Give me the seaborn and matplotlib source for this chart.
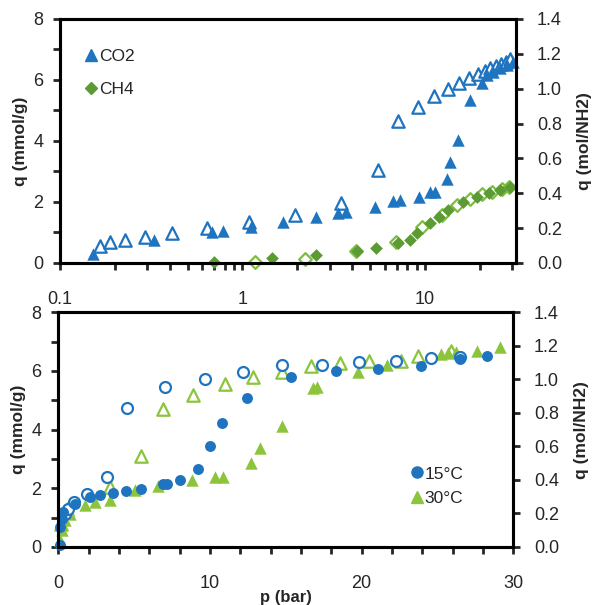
import numpy as np
import pandas as pd
import matplotlib
matplotlib.use("Agg")
import matplotlib.pyplot as plt
import matplotlib.ticker as mticker
import seaborn as sns

sns.set_style("ticks")
plt.rcParams["font.family"] = ["Liberation Sans", "DejaVu Sans"]

# ── Data: top panel (log p, CO2 / CH4) ───────────────────────────────────────
co2_ads_p = [0.152, 0.326, 0.678, 0.78, 1.12, 1.66, 2.54, 3.34, 3.71, 5.31, 6.70, 7.29,
             9.27, 10.6, 11.4, 13.2, 13.7, 15.2, 17.7, 20.5, 21.8, 23.7, 25.8, 28.1, 30.2]
co2_ads_q = [0.285, 0.75, 1.03, 1.05, 1.19, 1.35, 1.50, 1.63, 1.66, 1.85, 2.04, 2.07,
             2.17, 2.32, 2.34, 2.75, 3.32, 4.03, 5.34, 5.89, 6.16, 6.27, 6.38, 6.49, 6.60]
co2_des_p = [0.166, 0.188, 0.228, 0.292, 0.411, 0.640, 1.08, 1.93, 3.48, 5.54, 7.14, 9.19,
             11.2, 13.3, 15.4, 17.5, 19.5, 21.2, 22.8, 24.5, 26.0, 27.9, 29.3]
co2_des_q = [0.57, 0.68, 0.75, 0.86, 0.99, 1.14, 1.33, 1.57, 1.98, 3.05, 4.67, 5.12,
             5.48, 5.69, 5.91, 6.05, 6.19, 6.31, 6.38, 6.46, 6.52, 6.60, 6.68]
ch4_ads_p = [0.695, 1.46, 2.54, 4.25, 5.42, 7.1, 8.27, 9.0, 10.7, 12.0, 13.4, 16.2,
             19.2, 22.3, 25.8, 29.3]
ch4_ads_q = [0.04, 0.15, 0.26, 0.40, 0.50, 0.66, 0.75, 0.99, 1.30, 1.50, 1.74, 2.01,
             2.15, 2.29, 2.39, 2.50]
ch4_des_p = [1.17, 2.19, 4.18, 6.93, 9.59, 12.4, 14.9, 17.7, 20.5, 23.3, 26.4, 28.7]
ch4_des_q = [0.04, 0.13, 0.39, 0.70, 1.19, 1.57, 1.90, 2.09, 2.25, 2.34, 2.42, 2.50]

# ── Data: bottom panel (linear p, 15 / 30 °C) ────────────────────────────────
t15_ads_p = [0.11, 0.11, 0.22, 0.33, 1.1, 2.09, 2.75, 3.58, 4.5, 5.43, 6.92, 7.14, 8.02,
             9.23, 10.04, 10.81, 12.48, 15.38, 18.3, 21.1, 23.9, 26.5, 28.3]
t15_ads_q = [0.06, 0.68, 0.96, 1.19, 1.48, 1.70, 1.76, 1.84, 1.90, 1.99, 2.13, 2.13, 2.27,
             2.67, 3.44, 4.22, 5.07, 5.81, 5.99, 6.07, 6.18, 6.41, 6.52]
t15_des_p = [0.44, 0.66, 1.03, 1.87, 3.19, 4.51, 7.03, 9.65, 12.2, 14.75, 17.36, 19.84,
             22.26, 24.6, 26.5]
t15_des_q = [1.13, 1.31, 1.53, 1.82, 2.40, 4.73, 5.45, 5.71, 5.98, 6.19, 6.21, 6.29,
             6.35, 6.44, 6.46]
t30_ads_p = [0.11, 0.22, 0.44, 0.77, 1.76, 2.42, 3.41, 5.06, 6.59, 8.79, 10.33, 10.88,
             12.7, 13.3, 14.73, 16.8, 17.05, 19.78, 21.7, 25.27, 25.7, 26.2, 27.6, 29.1]
t30_ads_q = [0.23, 0.57, 0.91, 1.13, 1.42, 1.53, 1.61, 1.93, 2.07, 2.27, 2.38, 2.38,
             2.86, 3.37, 4.11, 5.42, 5.44, 5.95, 6.21, 6.58, 6.61, 6.63, 6.69, 6.80]
t30_des_p = [0.2, 0.6, 3.4, 5.49, 6.92, 8.9, 10.99, 12.86, 14.73, 16.7, 18.57, 20.5,
             22.6, 23.73, 25.9]
t30_des_q = [0.8, 1.3, 2.04, 3.09, 4.71, 5.19, 5.56, 5.79, 5.96, 6.18, 6.26, 6.35,
             6.35, 6.52, 6.69]

BLUE = "#1f74bf"
GREEN = "#8cc43c"
CH4_FILL = "#5c9a34"
CH4_OPEN = "#7cbd3e"


def points(ax, p, q, marker, colour, s, filled=True, label=None):
    df = pd.DataFrame({"p": p, "q": q})
    sns.scatterplot(
        data=df, x="p", y="q", ax=ax, marker=marker, s=s, label=label,
        color=colour if filled else "white",
        edgecolor=colour, linewidth=0 if filled else 1.6,
        clip_on=False, zorder=3, legend=False,
    )


def style_axes(ax, twin):
    for side in ["left", "right", "top", "bottom"]:
        ax.spines[side].set_linewidth(2.2)
        ax.spines[side].set_color("black")
        twin.spines[side].set_linewidth(2.2)
        twin.spines[side].set_color("black")
    ax.set_ylim(0, 8)
    ax.yaxis.set_major_locator(mticker.MultipleLocator(2))
    ax.yaxis.set_minor_locator(mticker.MultipleLocator(1))
    ax.tick_params(axis="y", which="both", direction="out", width=2, length=5,
                   labelsize=13, pad=7)
    ax.tick_params(axis="x", which="both", direction="out", width=2, length=5,
                   labelsize=13, pad=15)
    ax.set_ylabel("q (mmol/g)", fontsize=12.5, fontweight="bold", labelpad=4)
    ax.set_xlabel("")
    twin.set_ylim(0, 1.4)
    twin.yaxis.set_major_locator(mticker.MultipleLocator(0.2))
    twin.yaxis.set_major_formatter(mticker.FormatStrFormatter("%.1f"))
    twin.tick_params(axis="y", direction="out", width=2, length=5,
                     labelsize=13, pad=10)
    twin.set_ylabel("q (mol/NH2)", fontsize=12.5, fontweight="bold", labelpad=11)


fig = plt.figure(figsize=(5.94, 6.05), dpi=100)
ax1 = fig.add_axes([0.101, 0.5653, 0.768, 0.4033])
ax2 = fig.add_axes([0.098, 0.0959, 0.766, 0.388])

# ── Top panel ────────────────────────────────────────────────────────────────
points(ax1, ch4_des_p, ch4_des_q, "D", CH4_OPEN, 42, filled=False)
points(ax1, ch4_ads_p, ch4_ads_q, "D", CH4_FILL, 42, label="CH4")
points(ax1, co2_des_p, co2_des_q, "^", BLUE, 80, filled=False)
points(ax1, co2_ads_p, co2_ads_q, "^", BLUE, 80, label="CO2")
ax1.set_xscale("log")
ax1.set_xlim(0.1, 31.6)
ax1.xaxis.set_major_formatter(mticker.FuncFormatter(lambda v, _: f"{v:g}"))
ax1.xaxis.set_minor_formatter(mticker.NullFormatter())
tw1 = ax1.twinx()
style_axes(ax1, tw1)

h1 = [
    plt.Line2D([], [], ls="", marker="^", color=BLUE, markersize=8),
    plt.Line2D([], [], ls="", marker="D", color=CH4_FILL, markersize=6),
]
ax1.legend(h1, ["CO2", "CH4"], loc="upper left", frameon=False, fontsize=12.5,
           handlelength=0.6, handletextpad=0.15, labelspacing=1.0,
           bbox_to_anchor=(0.022, 0.94))

# ── Bottom panel ─────────────────────────────────────────────────────────────
points(ax2, t30_des_p, t30_des_q, "^", GREEN, 80, filled=False)
points(ax2, t30_ads_p, t30_ads_q, "^", GREEN, 80, label="30°C")
points(ax2, t15_des_p, t15_des_q, "o", BLUE, 62, filled=False)
points(ax2, t15_ads_p, t15_ads_q, "o", BLUE, 62, label="15°C")
ax2.set_xlim(0, 30)
ax2.xaxis.set_major_locator(mticker.MultipleLocator(10))
ax2.xaxis.set_minor_locator(mticker.MultipleLocator(2))
tw2 = ax2.twinx()
style_axes(ax2, tw2)
ax2.set_xlabel("p (bar)", fontsize=12, fontweight="bold", labelpad=-1)

h2 = [
    plt.Line2D([], [], ls="", marker="o", color=BLUE, markersize=8),
    plt.Line2D([], [], ls="", marker="^", color=GREEN, markersize=8),
]
ax2.legend(h2, ["15°C", "30°C"], loc="upper left", frameon=False, fontsize=12.5,
           handlelength=0.6, handletextpad=0.15, labelspacing=0.55,
           bbox_to_anchor=(0.742, 0.41))

fig.savefig("out.png", dpi=100, facecolor="white")
